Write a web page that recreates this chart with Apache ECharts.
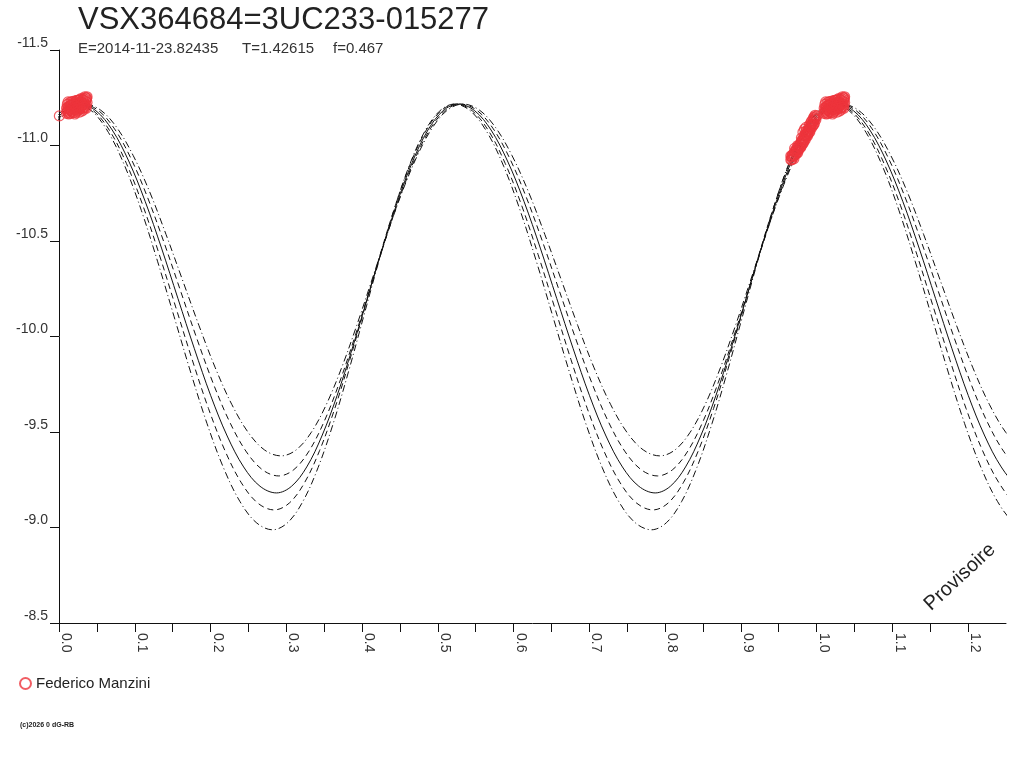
<!DOCTYPE html>
<html>
<head>
<meta charset="utf-8">
<script src="https://cdn.jsdelivr.net/npm/echarts@6/dist/echarts.min.js"></script>
<style>
html,body{margin:0;padding:0;background:#fff;}
#chart{width:1024px;height:768px;}
</style>
</head>
<body>
<div id="chart"></div>
<script>
// ---- data ----
const titleText = 'VSX364684=3UC233-015277';
const subEpoch = 'E=2014-11-23.82435';
const subPeriod = 'T=1.42615';
const subF = 'f=0.467';
const observerName = 'Federico Manzini';

// model curves (phase, magnitude), outer dash-dot, dashed, central solid, dashed, outer dash-dot
const curvePhases1 = [-0.007, 0.013,
  0.033, 0.0547, 0.0763, 0.098, 0.1197, 0.1413, 0.163, 0.1847, 0.2063, 0.228, 0.2497, 0.2713, 0.293,
  0.313, 0.333, 0.353, 0.373, 0.393, 0.413, 0.433, 0.453, 0.473, 0.493, 0.513,
  0.533, 0.5547, 0.5763, 0.598, 0.6197, 0.6413, 0.663, 0.6847, 0.7063, 0.728, 0.7497, 0.7713, 0.793,
  0.813, 0.833, 0.853, 0.873, 0.893, 0.913, 0.933, 0.953, 0.973, 0.993, 1.013,
  1.033, 1.0547, 1.0763, 1.098, 1.1197, 1.1413, 1.163, 1.1847, 1.2063, 1.228, 1.2497, 1.2713, 1.293];
const curveMags1 = [-11.094, -11.186,
  -11.217, -11.186, -11.094, -10.947, -10.757, -10.534, -10.296, -10.058, -9.836, -9.645, -9.498, -9.406, -9.375,
  -9.406, -9.498, -9.645, -9.836, -10.058, -10.296, -10.534, -10.757, -10.947, -11.094, -11.186,
  -11.217, -11.186, -11.094, -10.947, -10.757, -10.534, -10.296, -10.058, -9.836, -9.645, -9.498, -9.406, -9.375,
  -9.406, -9.498, -9.645, -9.836, -10.058, -10.296, -10.534, -10.757, -10.947, -11.094, -11.186,
  -11.217, -11.186, -11.094, -10.947, -10.757, -10.534, -10.296, -10.058, -9.836, -9.645, -9.498, -9.406, -9.375];

const curvePhases2 = [-0.010, 0.010,
  0.030, 0.0517, 0.0733, 0.095, 0.1167, 0.1383, 0.160, 0.1817, 0.2033, 0.225, 0.2467, 0.2683, 0.290,
  0.310, 0.330, 0.350, 0.370, 0.390, 0.410, 0.430, 0.450, 0.470, 0.490, 0.510,
  0.530, 0.5517, 0.5733, 0.595, 0.6167, 0.6383, 0.660, 0.6817, 0.7033, 0.725, 0.7467, 0.7683, 0.790,
  0.810, 0.830, 0.850, 0.870, 0.890, 0.910, 0.930, 0.950, 0.970, 0.990, 1.010,
  1.030, 1.0517, 1.0733, 1.095, 1.1167, 1.1383, 1.160, 1.1817, 1.2033, 1.225, 1.2467, 1.2683, 1.290];
const curveMags2 = [-11.087, -11.184,
  -11.217, -11.184, -11.087, -10.932, -10.730, -10.496, -10.244, -9.992, -9.757, -9.555, -9.400, -9.303, -9.270,
  -9.303, -9.400, -9.555, -9.757, -9.992, -10.244, -10.496, -10.730, -10.932, -11.087, -11.184,
  -11.217, -11.184, -11.087, -10.932, -10.730, -10.496, -10.244, -9.992, -9.757, -9.555, -9.400, -9.303, -9.270,
  -9.303, -9.400, -9.555, -9.757, -9.992, -10.244, -10.496, -10.730, -10.932, -11.087, -11.184,
  -11.217, -11.184, -11.087, -10.932, -10.730, -10.496, -10.244, -9.992, -9.757, -9.555, -9.400, -9.303, -9.270];

const curvePhases3 = [-0.013, 0.007,
  0.027, 0.0487, 0.0703, 0.092, 0.1137, 0.1353, 0.157, 0.1787, 0.2003, 0.222, 0.2437, 0.2653, 0.287,
  0.307, 0.327, 0.347, 0.367, 0.387, 0.407, 0.427, 0.447, 0.467, 0.487, 0.507,
  0.527, 0.5487, 0.5703, 0.592, 0.6137, 0.6353, 0.657, 0.6787, 0.7003, 0.722, 0.7437, 0.7653, 0.787,
  0.807, 0.827, 0.847, 0.867, 0.887, 0.907, 0.927, 0.947, 0.967, 0.987, 1.007,
  1.027, 1.0487, 1.0703, 1.092, 1.1137, 1.1353, 1.157, 1.1787, 1.2003, 1.222, 1.2437, 1.2653, 1.287];
const curveMags3 = [-11.081, -11.182,
  -11.217, -11.182, -11.081, -10.919, -10.708, -10.463, -10.199, -9.936, -9.690, -9.479, -9.317, -9.216, -9.181,
  -9.216, -9.317, -9.479, -9.690, -9.936, -10.199, -10.463, -10.708, -10.919, -11.081, -11.182,
  -11.217, -11.182, -11.081, -10.919, -10.708, -10.463, -10.199, -9.936, -9.690, -9.479, -9.317, -9.216, -9.181,
  -9.216, -9.317, -9.479, -9.690, -9.936, -10.199, -10.463, -10.708, -10.919, -11.081, -11.182,
  -11.217, -11.182, -11.081, -10.919, -10.708, -10.463, -10.199, -9.936, -9.690, -9.479, -9.317, -9.216, -9.181];

const curvePhases4 = [-0.016, 0.004,
  0.024, 0.0457, 0.0673, 0.089, 0.1107, 0.1323, 0.154, 0.1757, 0.1973, 0.219, 0.2407, 0.2623, 0.284,
  0.304, 0.324, 0.344, 0.364, 0.384, 0.404, 0.424, 0.444, 0.464, 0.484, 0.504,
  0.524, 0.5457, 0.5673, 0.589, 0.6107, 0.6323, 0.654, 0.6757, 0.6973, 0.719, 0.7407, 0.7623, 0.784,
  0.804, 0.824, 0.844, 0.864, 0.884, 0.904, 0.924, 0.944, 0.964, 0.984, 1.004,
  1.024, 1.0457, 1.0673, 1.089, 1.1107, 1.1323, 1.154, 1.1757, 1.1973, 1.219, 1.2407, 1.2623, 1.284];
const curveMags4 = [-11.075, -11.181,
  -11.217, -11.181, -11.075, -10.906, -10.686, -10.430, -10.155, -9.880, -9.623, -9.403, -9.234, -9.128, -9.092,
  -9.128, -9.234, -9.403, -9.623, -9.880, -10.155, -10.430, -10.686, -10.906, -11.075, -11.181,
  -11.217, -11.181, -11.075, -10.906, -10.686, -10.430, -10.155, -9.880, -9.623, -9.403, -9.234, -9.128, -9.092,
  -9.128, -9.234, -9.403, -9.623, -9.880, -10.155, -10.430, -10.686, -10.906, -11.075, -11.181,
  -11.217, -11.181, -11.075, -10.906, -10.686, -10.430, -10.155, -9.880, -9.623, -9.403, -9.234, -9.128, -9.092];

const curvePhases5 = [-0.018, 0.002,
  0.022, 0.0437, 0.0653, 0.087, 0.1087, 0.1303, 0.152, 0.1737, 0.1953, 0.217, 0.2387, 0.2603, 0.282,
  0.302, 0.322, 0.342, 0.362, 0.382, 0.402, 0.422, 0.442, 0.462, 0.482, 0.502,
  0.522, 0.5437, 0.5653, 0.587, 0.6087, 0.6303, 0.652, 0.6737, 0.6953, 0.717, 0.7387, 0.7603, 0.782,
  0.802, 0.822, 0.842, 0.862, 0.882, 0.902, 0.922, 0.942, 0.962, 0.982, 1.002,
  1.022, 1.0437, 1.0653, 1.087, 1.1087, 1.1303, 1.152, 1.1737, 1.1953, 1.217, 1.2387, 1.2603, 1.282];
const curveMags5 = [-11.068, -11.179,
  -11.217, -11.179, -11.068, -10.891, -10.660, -10.391, -10.103, -9.814, -9.545, -9.314, -9.137, -9.026, -8.988,
  -9.026, -9.137, -9.314, -9.545, -9.814, -10.103, -10.391, -10.660, -10.891, -11.068, -11.179,
  -11.217, -11.179, -11.068, -10.891, -10.660, -10.391, -10.103, -9.814, -9.545, -9.314, -9.137, -9.026, -8.988,
  -9.026, -9.137, -9.314, -9.545, -9.814, -10.103, -10.391, -10.660, -10.891, -11.068, -11.179,
  -11.217, -11.179, -11.068, -10.891, -10.660, -10.391, -10.103, -9.814, -9.545, -9.314, -9.137, -9.026, -8.988];

// observations (phase in [0,1), magnitude)
const obsPhase = [0.0005, 0.010, 0.011, 0.012, 0.013, 0.014, 0.015, 0.016, 0.017, 0.018, 0.019, 0.020, 0.021, 0.022, 0.023, 0.024, 0.025, 0.026, 0.027, 0.028, 0.029, 0.030, 0.031, 0.032, 0.033, 0.034, 0.035, 0.036, 0.0365, 0.012, 0.018, 0.024, 0.030, 0.016, 0.028,
  0.010, 0.011, 0.013, 0.014, 0.015, 0.017, 0.019, 0.020, 0.021, 0.022, 0.023, 0.025, 0.026, 0.027, 0.029, 0.031, 0.032, 0.033, 0.034, 0.035, 0.036, 0.037, 0.037, 0.015, 0.019, 0.023, 0.027, 0.031, 0.013, 0.021,
  0.012, 0.014, 0.016, 0.018, 0.020, 0.022, 0.024, 0.026, 0.028, 0.030, 0.032, 0.034, 0.036, 0.0355, 0.017, 0.021, 0.025, 0.029, 0.033, 0.011,
  0.966, 0.967, 0.968, 0.969, 0.970, 0.971, 0.972, 0.973, 0.974, 0.975, 0.976, 0.977, 0.978, 0.979, 0.980, 0.981, 0.982, 0.983, 0.984, 0.985, 0.986, 0.987, 0.988, 0.989, 0.990, 0.991, 0.992, 0.993, 0.994, 0.995, 0.996, 0.997, 0.998, 0.999,
  0.966, 0.968, 0.970, 0.971, 0.973, 0.975, 0.977, 0.979, 0.980, 0.982, 0.984, 0.985, 0.987, 0.988, 0.990, 0.991, 0.993, 0.994, 0.996, 0.997, 0.998, 0.975, 0.983, 0.989, 0.995, 0.982, 0.984, 0.986,
  0.967, 0.969, 0.971, 0.972, 0.974, 0.976, 0.978, 0.980, 0.981, 0.983, 0.985, 0.986, 0.988, 0.990, 0.991, 0.992, 0.994, 0.996, 0.997, 0.999];
const obsMag = [-11.155, -11.195, -11.215, -11.180, -11.205, -11.225, -11.190, -11.210, -11.178, -11.230, -11.200, -11.218, -11.188, -11.208, -11.235, -11.196, -11.222, -11.185, -11.212, -11.240, -11.200, -11.226, -11.193, -11.215, -11.245, -11.205, -11.232, -11.212, -11.248, -11.228, -11.192, -11.216, -11.206, -11.183, -11.192,
  -11.168, -11.175, -11.165, -11.185, -11.170, -11.198, -11.172, -11.232, -11.165, -11.228, -11.180, -11.205, -11.238, -11.175, -11.230, -11.242, -11.185, -11.222, -11.255, -11.200, -11.240, -11.225, -11.255, -11.212, -11.222, -11.214, -11.195, -11.210, -11.192, -11.200,
  -11.200, -11.170, -11.228, -11.175, -11.195, -11.172, -11.236, -11.205, -11.222, -11.180, -11.238, -11.218, -11.195, -11.250, -11.215, -11.210, -11.190, -11.245, -11.200, -11.185,
  -10.925, -10.940, -10.930, -10.955, -10.948, -10.965, -10.958, -10.975, -10.985, -10.978, -10.995, -11.000, -10.990, -11.012, -11.020, -11.010, -11.032, -11.040, -11.030, -11.052, -11.060, -11.050, -11.072, -11.080, -11.085, -11.092, -11.100, -11.108, -11.112, -11.122, -11.130, -11.138, -11.140, -11.150,
  -10.945, -10.950, -10.930, -10.985, -10.955, -11.000, -10.980, -10.990, -11.040, -11.010, -11.055, -11.030, -11.075, -11.050, -11.100, -11.070, -11.125, -11.095, -11.145, -11.115, -11.158, -10.962, -11.018, -11.063, -11.105, -11.070, -11.085, -11.095,
  -10.925, -10.940, -10.950, -10.975, -10.965, -10.980, -11.005, -11.000, -11.030, -11.030, -11.045, -11.075, -11.060, -11.070, -11.110, -11.085, -11.130, -11.110, -11.150, -11.135];

const xTicks = {min: 0, max: 1.25, step: 0.05};
const yTicks = {min: -11.5, max: -8.5, step: 0.5};

// ---- build ----
function pairs(ph, mg){ return ph.map((p,i)=>[p, mg[i]]); }
const obsData = [];
obsPhase.forEach((p,i)=>{
  obsData.push([p, obsMag[i]]);
  if (p + 1 <= xTicks.max) obsData.push([p + 1, obsMag[i]]);
});

const FONT = 'Liberation Sans, Arial, sans-serif';
const lineColor = '#111';
function curve(name, data, type){
  return {
    name: name, type: 'line', data: data, symbol: 'none', smooth: 0.35,
    lineStyle: {color: lineColor, width: 1, type: type},
    silent: true, z: 2
  };
}

const chart = echarts.init(document.getElementById('chart'), null, {renderer: 'canvas'});
chart.setOption({
  animation: false,
  backgroundColor: '#fff',
  grid: {left: 59, right: 18, top: 50, bottom: 145, containLabel: false},
  xAxis: {
    type: 'value', min: xTicks.min, max: xTicks.max, interval: xTicks.step,
    axisLine: {lineStyle: {color: '#111', width: 1}},
    axisTick: {length: 9, lineStyle: {color: '#111'}},
    splitLine: {show: false},
    axisLabel: {
      rotate: -90, margin: 10, color: '#333', fontSize: 14, fontFamily: FONT,
      align: 'left', verticalAlign: 'bottom', showMaxLabel: false,
      formatter: function(v){
        const t = Math.round(v * 100);
        return (t % 10 === 0) ? (t / 100).toFixed(1) : '';
      }
    }
  },
  yAxis: {
    type: 'value', inverse: true, min: yTicks.min, max: yTicks.max, interval: yTicks.step,
    axisLine: {show: true, lineStyle: {color: '#111', width: 1}},
    axisTick: {show: true, length: 9, lineStyle: {color: '#111'}},
    splitLine: {show: false},
    axisLabel: {
      margin: 11, color: '#333', fontSize: 14, fontFamily: FONT, verticalAlign: 'bottom',
      formatter: function(v){ return v.toFixed(1); }
    }
  },
  legend: {
    show: true, data: [observerName], left: 14, top: 671, orient: 'vertical',
    itemWidth: 11, itemHeight: 11, itemGap: 4, icon: 'circle',
    textStyle: {color: '#222', fontSize: 15, fontFamily: FONT}
  },
  series: [
    curve('c1', pairs(curvePhases1, curveMags1), [7,3,1,3]),
    curve('c2', pairs(curvePhases2, curveMags2), [6,4]),
    curve('c3', pairs(curvePhases3, curveMags3), 'solid'),
    curve('c4', pairs(curvePhases4, curveMags4), [6,4]),
    curve('c5', pairs(curvePhases5, curveMags5), [7,3,1,3]),
    {
      name: observerName, type: 'scatter', data: obsData, symbol: 'circle', symbolSize: 10,
      itemStyle: {color: 'rgba(255,255,255,0)', borderColor: '#ee343c', borderWidth: 1.2},
      z: 5, silent: true
    }
  ],
  graphic: [
    {type: 'text', left: 78, top: 5, style: {text: titleText, fill: '#222', font: 'normal 31px ' + FONT}},
    {type: 'text', left: 78, top: 41, style: {text: subEpoch, fill: '#333', font: 'normal 15px ' + FONT}},
    {type: 'text', left: 242, top: 41, style: {text: subPeriod, fill: '#333', font: 'normal 15px ' + FONT}},
    {type: 'text', left: 333, top: 41, style: {text: subF, fill: '#333', font: 'normal 15px ' + FONT}},
    {type: 'text', x: 960, y: 577, rotation: Math.PI / 4 * 0.95,
     style: {text: 'Provisoire', fill: '#222', font: 'normal 20px ' + FONT, align: 'center', verticalAlign: 'middle'}},
    {type: 'text', left: 20, top: 722, style: {text: '(c)2026 0 dG-RB', fill: '#222', font: 'bold 7px ' + FONT}}
  ]
});
</script>
</body>
</html>
